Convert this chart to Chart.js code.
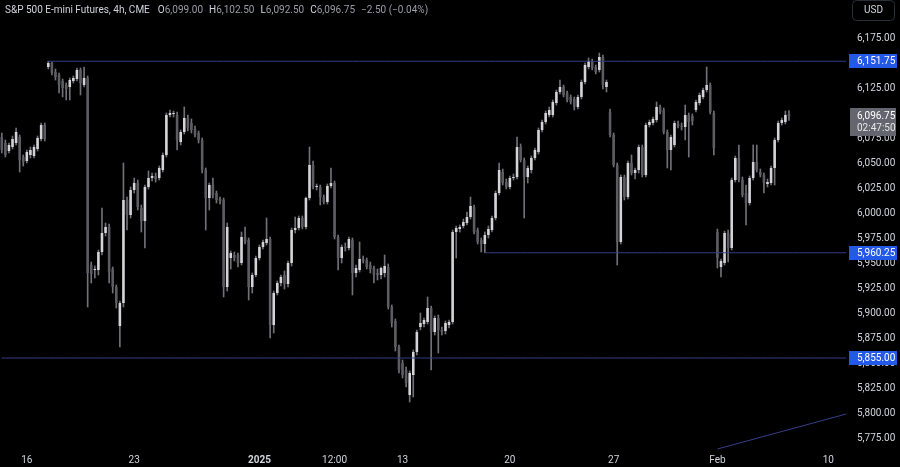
<!DOCTYPE html>
<html>
<head>
<meta charset="utf-8">
<script src="https://cdn.jsdelivr.net/npm/chart.js@4.4.1/dist/chart.umd.min.js"></script>
<style>
  html, body { margin: 0; padding: 0; background: #000; }
  #wrap { width: 900px; height: 467px; position: relative; }
</style>
</head>
<body>
<div id="wrap"><canvas id="chart" width="900" height="467"></canvas></div>
<script>
// 4h candles (oldest first)
const opens = [6076,6070,6062,6066,6070,6076,6056,6052,6058,6057,6064,6074,6088,6146,6150,6141,6138,6132,6128,6126,
  6132,6134,6143,6128,6135,5948,5943,5943,5961,5980,5986,5944,5926,5887,5910,6013,5998,6023,6030,6005,
  5992,6026,6035,6037,6035,6043,6058,6098,6099,6098,6071,6081,6095,6090,6084,6080,6073,6043,6015,6028,
  6020,6014,6013,5926,5955,5958,5958,5950,5976,5973,5926,5938,5955,5966,5970,5974,5888,5920,5930,5938,
  5929,5950,5983,5985,5995,5986,6015,6048,6026,6026,6016,6011,6027,6030,5976,5955,5966,5965,5973,5940,
  5943,5954,5953,5948,5945,5940,5938,5940,5946,5906,5892,5866,5850,5843,5818,5838,5861,5886,5889,5891,
  5905,5881,5895,5883,5882,5888,5891,5981,5984,5987,5990,5996,6006,5983,5973,5969,5978,5983,5995,6020,
  6041,6031,6026,6035,6036,6066,6053,6036,6043,6055,6061,6083,6091,6098,6098,6110,6121,6126,6120,6116,
  6114,6106,6116,6131,6146,6152,6146,6143,6156,6126,6101,6078,6048,5971,6036,6016,6050,6040,6043,6066,
  6038,6088,6090,6093,6106,6103,6081,6063,6068,6089,6087,6086,6098,6097,6103,6110,6116,6123,6128,6100,
  5981,5946,5950,5980,5965,6033,6055,6033,6020,6010,6035,6051,6041,6038,6029,6030,6045,6073,6090,6091,
  6099];
const highs = [6080,6073,6070,6077,6085,6078,6058,6063,6066,6068,6077,6090,6090,6151.75,6151,6144,6140,6134,6130,6135,
  6137,6145,6145,6146,6137,5951,5947,5963,6005,5990,5989,5946,5928,5912,6050,6016,6026,6035,6033,6008,
  6028,6042,6040,6040,6047,6060,6100,6103,6102,6101,6083,6106,6098,6094,6087,6082,6075,6045,6030,6035,
  6022,6016,6015,5990,5962,5961,5960,5981,5986,5975,5940,5957,5968,5973,5995,5976,5922,5932,5938,5942,
  5952,5985,5996,5997,5997,6016,6066,6052,6029,6028,6018,6029,6045,6032,5978,5968,5970,5976,5975,5948,
  5971,5957,5955,5951,5947,5944,5946,5958,5949,5908,5894,5868,5853,5846,5842,5863,5883,5900,5895,5916,
  5907,5897,5898,5886,5892,5893,5983,5987,5988,5994,6001,6016,6008,5985,5975,5981,5987,5997,6022,6050,
  6044,6034,6037,6039,6076,6069,6055,6047,6057,6065,6085,6093,6102,6106,6113,6123,6133,6128,6122,6118,
  6116,6118,6133,6150,6155,6154,6148,6160,6158,6133,6104,6080,6050,6038,6038,6052,6058,6045,6068,6068,
  6090,6093,6096,6111,6108,6105,6083,6078,6092,6092,6090,6108,6100,6099,6113,6120,6125,6146,6130,6102,
  5984,5954,5982,5983,6035,6057,6068,6036,6028,6037,6068,6068,6044,6040,6034,6047,6075,6092,6095,6102,
  6102.5];
const lows = [6060,6056,6060,6064,6068,6041,6047,6050,6055,6055,6062,6072,6072,6144,6138,6133,6120,6116,6113,6113,
  6130,6132,6118,6126,5906,5930,5935,5938,5958,5977,5930,5920,5905,5866,5906,5983,5995,6020,6003,5981,
  5965,6024,6032,6031,6033,6041,6056,6096,6096,6063,6068,6079,6082,6080,6076,6070,6040,5983,6003,6015,
  6010,6009,5916,5922,5944,5952,5946,5948,5969,5913,5920,5936,5953,5964,5968,5875,5880,5918,5927,5924,
  5926,5947,5980,5983,5984,5984,6013,6024,6023,6008,6009,6009,6025,5974,5943,5950,5962,5963,5918,5936,
  5941,5950,5944,5940,5930,5933,5934,5936,5904,5886,5862,5840,5835,5826,5811,5816,5858,5883,5886,5889,
  5843,5878,5860,5878,5879,5885,5889,5955,5981,5985,5988,5994,5979,5969,5961,5960.25,5975,5981,5993,6018,
  6028,6024,6024,6033,6034,6051,5995,6030,6040,6053,6059,6081,6089,6096,6096,6108,6119,6116,6111,6109,
  6103,6104,6114,6129,6144,6143,6139,6141,6124,6121,6076,6046,5948,5969,6013,6014,6038,6034,6040,6036,
  6036,6086,6088,6091,6099,6079,6045,6043,6066,6085,6083,6073,6056,6088,6101,6108,6114,6121,6099,6058,
  5945,5936,5948,5951,5963,6031,6031,6016,5988,6008,6033,6041,6036,6020,6026,6028,6028,6071,6088,6089,
  6092.5];
const closes = [6063,6058,6068,6074,6081,6053,6051,6061,6063,6066,6075,6088,6074,6150,6140,6136,6128,6125,6124,6133,
  6135,6143,6130,6135,5940,5939,5944,5961,5980,5986,5941,5926,5910,5910,6013,5998,6023,6030,6006,5992,
  6026,6035,6037,6034,6045,6058,6098,6100,6100,6073,6081,6095,6085,6083,6078,6073,6043,6015,6028,6018,
  6013,6012,5926,5986,5960,5955,5950,5976,5971,5926,5938,5955,5966,5971,5974,5888,5920,5930,5936,5929,
  5950,5983,5985,5995,5986,6015,6048,6026,6027,6016,6011,6027,6030,5976,5955,5966,5965,5974,5940,5945,
  5954,5952,5946,5944,5938,5938,5945,5947,5906,5890,5866,5843,5838,5830,5840,5861,5881,5890,5893,5905,
  5881,5895,5883,5881,5890,5891,5981,5985,5986,5991,5996,6007,5981,5971,5969,5978,5984,5995,6020,6043,
  6030,6026,6035,6036,6066,6053,6036,6045,6055,6063,6083,6091,6100,6103,6111,6121,6126,6118,6113,6111,
  6106,6116,6131,6148,6152,6145,6141,6156,6128,6131,6078,6048,5971,6036,6016,6050,6040,6043,6066,6038,
  6088,6091,6094,6106,6101,6081,6063,6076,6090,6087,6086,6098,6091,6092,6111,6118,6123,6128,6101,6065,
  5955,5952,5980,5965,6033,6055,6033,6018,6010,6035,6051,6043,6038,6030,6031,6045,6073,6090,6093,6098,
  6096.75];

// time axis: bar slot where each label sits
const slotCount = 237;
const tickIdx = [7, 37, 72, 93, 112, 142, 171, 200, 231];
const tickText = ['16', '23', '2025', '12:00', '13', '20', '27', 'Feb', '10'];

// price axis
const priceTicks = [5775, 5800, 5825, 5850, 5875, 5900, 5925, 5950, 5975, 6000,
  6025, 6050, 6075, 6100, 6125, 6150, 6175];

// drawn levels and the trend line
const levels = [6151.75, 5960.25, 5855.00];
const levelStart = [13, 135, 0];
const trendIdx = [200, 236];
const trendVal = [5764, 5799];
const countdown = '02:47:50';

const UP = '#d4d4d8', DOWN = '#5c5c63', WICK = '#707076';
const LINE = '#363d88', BLUE = '#2458e6';
const TXT = '#d1d4dc';
const FONT = 'Roboto, "Noto Sans", sans-serif';

const labels = [];
for (let i = 0; i < slotCount; i++) labels.push('');
tickIdx.forEach((ix, k) => { labels[ix] = tickText[k]; });

const fmt = v => v.toLocaleString('en-US', { minimumFractionDigits: 2, maximumFractionDigits: 2 });

const levelSets = levels.map((lv, k) => ({
  type: 'line',
  data: labels.map((_, i) => (i >= levelStart[k] ? lv : null)),
  borderColor: LINE, borderWidth: 1, pointRadius: 0, order: 0
}));

const trendData = labels.map(() => null);
trendIdx.forEach((ix, k) => { trendData[ix] = trendVal[k]; });

const overlay = {
  id: 'overlay',
  afterDraw(chart) {
    const ctx = chart.ctx;
    const y = chart.scales.y;
    ctx.save();
    // header
    ctx.textBaseline = 'middle';
    ctx.font = '10px ' + FONT;
    let x = 5;
    const parts = [
      ['S&P 500 E-mini Futures, 4h, CME', TXT, 8],
      ['O', TXT, 0], ['6,099.00', '#9a9da6', 6],
      ['H', TXT, 0], ['6,102.50', '#9a9da6', 6],
      ['L', TXT, 0], ['6,092.50', '#9a9da6', 6],
      ['C', TXT, 0], ['6,096.75', '#9a9da6', 6],
      ['\u22122.50 (\u22120.04%)', '#9a9da6', 0]
    ];
    parts.forEach(p => {
      ctx.fillStyle = p[1];
      ctx.fillText(p[0], x, 10);
      x += ctx.measureText(p[0]).width + p[2];
    });

    // USD button
    ctx.fillStyle = '#000';
    ctx.strokeStyle = '#2a2e39';
    ctx.lineWidth = 1;
    ctx.beginPath();
    ctx.roundRect(852.5, 0.5, 42, 20, 4);
    ctx.fill();
    ctx.stroke();
    ctx.fillStyle = TXT;
    ctx.textAlign = 'center';
    ctx.font = '10px ' + FONT;
    ctx.fillText('USD', 873.5, 10.5);

    // level tags
    ctx.textAlign = 'left';
    levels.forEach(lv => {
      const py = Math.round(y.getPixelForValue(lv));
      ctx.fillStyle = BLUE;
      ctx.fillRect(849, py - 7, 48, 14);
      ctx.fillStyle = '#ffffff';
      ctx.fillText(fmt(lv), 857, py + 0.5);
    });

    // last price tag
    const last = closes[closes.length - 1];
    const py = Math.round(y.getPixelForValue(last));
    ctx.fillStyle = '#63666f';
    ctx.fillRect(850, py - 8, 46, 28);
    ctx.fillStyle = '#ffffff';
    ctx.fillText(fmt(last), 857, py);
    ctx.fillStyle = '#e6e6e6';
    ctx.fillText(countdown, 857, py + 12);
    ctx.restore();
  }
};

new Chart(document.getElementById('chart'), {
  type: 'bar',
  data: {
    labels: labels,
    datasets: [
      {
        data: opens.map((o, i) => [o, closes[i]]),
        backgroundColor: opens.map((o, i) => (closes[i] >= o ? UP : DOWN)),
        barPercentage: 0.72, categoryPercentage: 1,
        grouped: false, minBarLength: 1, order: 1
      },
      {
        data: lows.map((l, i) => [l, highs[i]]),
        backgroundColor: WICK,
        barThickness: 1, grouped: false, order: 2
      },
      ...levelSets,
      {
        type: 'line', data: trendData, spanGaps: true,
        borderColor: LINE, borderWidth: 1, pointRadius: 0, order: 0
      }
    ]
  },
  options: {
    responsive: false,
    maintainAspectRatio: false,
    devicePixelRatio: 1,
    animation: false,
    layout: { padding: 0 },
    plugins: { legend: { display: false }, tooltip: { enabled: false } },
    scales: {
      x: {
        type: 'category',
        offset: true,
        grid: { display: false, drawTicks: false },
        border: { display: false },
        ticks: {
          autoSkip: false, maxRotation: 0, padding: 4,
          color: TXT,
          font: c => ({ family: FONT, size: 10, weight: c.tick && c.tick.label === '2025' ? 'bold' : 'normal' }),
          callback: (v, i) => labels[i]
        },
        afterFit: s => { s.height = 17; s.paddingLeft = 0; s.paddingRight = 0; }
      },
      y: {
        position: 'right',
        min: 5763, max: 6213,
        grid: { display: false, drawTicks: false },
        border: { display: false },
        ticks: {
          padding: 9, color: TXT,
          font: { family: FONT, size: 10 },
          callback: v => fmt(v)
        },
        afterBuildTicks: s => { s.ticks = priceTicks.map(v => ({ value: v })); },
        afterFit: s => { s.width = 52; s.paddingTop = 0; s.paddingBottom = 0; }
      }
    }
  },
  plugins: [overlay]
});
</script>
</body>
</html>
